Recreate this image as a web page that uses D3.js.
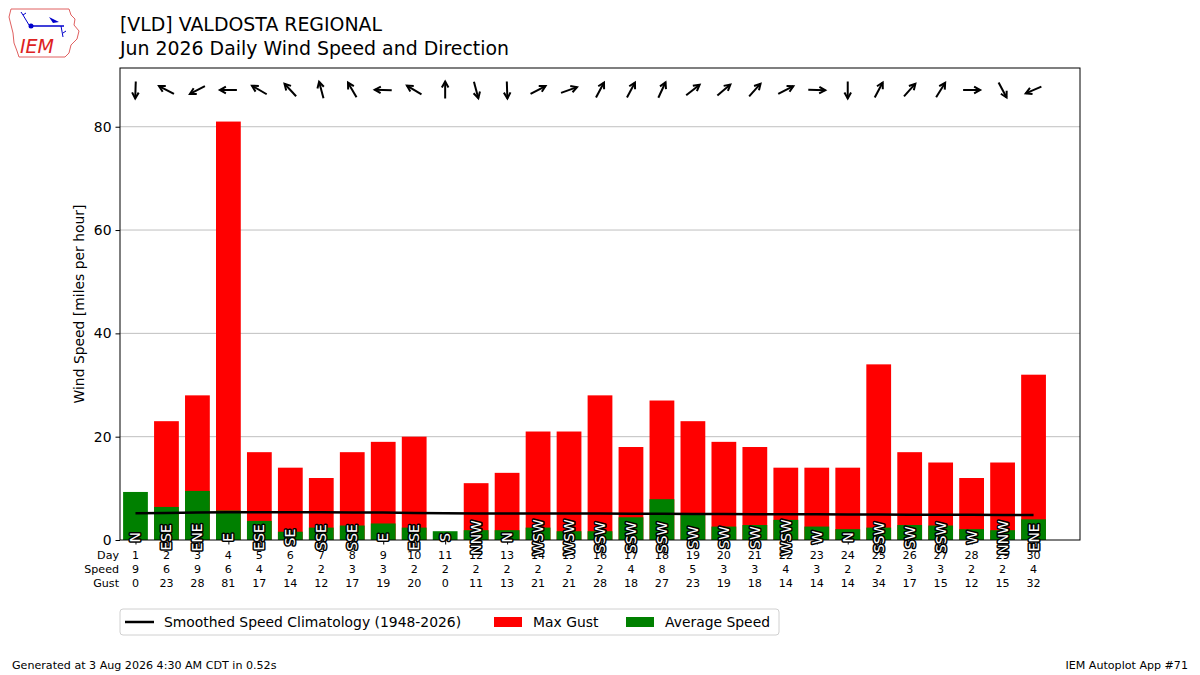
<!DOCTYPE html>
<html>
<head>
<meta charset="utf-8">
<script src="https://cdn.jsdelivr.net/npm/d3@7"></script>
<style>
  body { margin: 0; background: #fff; }
  svg text { font-family: "DejaVu Sans", sans-serif; }
</style>
</head>
<body>
<div id="chart"></div>
<script>
// daily values
const days = d3.range(1, 31);
const avgSpeed = [9.3, 6.4, 9.5, 5.7, 3.7, 1.6, 2.4, 2.8, 3.2, 2.4, 1.7, 1.9, 1.9, 2.4, 1.7,
                  1.7, 4.4, 7.9, 5.0, 2.6, 2.9, 3.9, 2.6, 2.1, 2.4, 2.9, 2.8, 2.1, 1.9, 4.0];
const speedLabels = [9, 6, 9, 6, 4, 2, 2, 3, 3, 2, 2, 2, 2, 2, 2, 2, 4, 8, 5, 3, 3, 4, 3, 2, 2, 3, 3, 2, 2, 4];
const maxGust = [0, 23, 28, 81, 17, 14, 12, 17, 19, 20, 0, 11, 13, 21, 21,
                 28, 18, 27, 23, 19, 18, 14, 14, 14, 34, 17, 15, 12, 15, 32];
const dirLabels = ["N", "ESE", "ENE", "E", "ESE", "SE", "SSE", "SSE", "E", "ESE", "S", "NNW", "N", "WSW", "WSW",
                   "SSW", "SSW", "SSW", "SW", "SW", "SW", "WSW", "W", "N", "SSW", "SW", "SSW", "W", "NNW", "ENE"];
const dirDeg = [2, 118, 62, 90, 120, 137, 165, 150, 92, 121, 180, 345, 358, 242, 250,
                208, 208, 205, 232, 230, 222, 243, 272, 0, 208, 222, 212, 270, 332, 67];
const climo = [5.2, 5.25, 5.3, 5.35, 5.35, 5.35, 5.35, 5.3, 5.3, 5.25, 5.2, 5.15, 5.15, 5.15, 5.15,
               5.15, 5.1, 5.1, 5.05, 5.05, 5.0, 5.0, 5.0, 4.95, 4.95, 4.9, 4.9, 4.9, 4.85, 4.85];
const yTicks = [0, 20, 40, 60, 80];

const W = 1200, H = 675;
const margin = { top: 68, right: 120, bottom: 135, left: 120 };
const innerW = W - margin.left - margin.right;
const innerH = H - margin.top - margin.bottom;
const FS = 13.9;

const svg = d3.select('#chart').append('svg')
    .attr('width', W)
    .attr('height', H);

const x = d3.scaleLinear().domain([0.5, 31.5]).range([0, innerW]);
const y = d3.scaleLinear().domain([0, d3.max(maxGust) * 1.128]).range([innerH, 0]);
const barW = x(0.8) - x(0);

const g = svg.append('g').attr('transform', `translate(${margin.left},${margin.top})`);

// grid lines
g.append('g').selectAll('line')
    .data(yTicks.filter(t => t > 0))
    .join('line')
    .attr('x1', 0).attr('x2', innerW)
    .attr('y1', d => y(d)).attr('y2', d => y(d))
    .attr('stroke', '#b0b0b0').attr('stroke-width', 0.8);

// bars: gust behind, average in front
g.append('g').selectAll('rect')
    .data(days)
    .join('rect')
    .attr('x', d => x(d) - barW / 2)
    .attr('width', barW)
    .attr('y', (d, i) => y(maxGust[i]))
    .attr('height', (d, i) => y(0) - y(maxGust[i]))
    .attr('fill', '#ff0000');

g.append('g').selectAll('rect')
    .data(days)
    .join('rect')
    .attr('x', d => x(d) - barW / 2)
    .attr('width', barW)
    .attr('y', (d, i) => y(avgSpeed[i]))
    .attr('height', (d, i) => y(0) - y(avgSpeed[i]))
    .attr('fill', '#008000');

// climatology line
const line = d3.line()
    .x((d, i) => x(days[i]))
    .y(d => y(d));
g.append('path')
    .datum(climo)
    .attr('d', line)
    .attr('fill', 'none')
    .attr('stroke', '#000')
    .attr('stroke-width', 2.5);

// frame
g.append('rect')
    .attr('width', innerW).attr('height', innerH)
    .attr('fill', 'none').attr('stroke', '#000').attr('stroke-width', 1);

// wind direction arrows (pointing where the wind blows to)
const arrowLen = 17, headLen = 6;
const arrows = g.append('g').selectAll('g')
    .data(dirDeg)
    .join('g')
    .attr('transform', (d, i) => `translate(${x(days[i])},${22}) rotate(${d + 180})`);
arrows.append('line')
    .attr('x1', 0).attr('y1', arrowLen / 2)
    .attr('x2', 0).attr('y2', -arrowLen / 2)
    .attr('stroke', '#000').attr('stroke-width', 2);
arrows.append('path')
    .attr('d', `M${-headLen * 0.55},${-arrowLen / 2 + headLen} L0,${-arrowLen / 2} L${headLen * 0.55},${-arrowLen / 2 + headLen}`)
    .attr('fill', 'none')
    .attr('stroke', '#000').attr('stroke-width', 2)
    .attr('stroke-linejoin', 'miter');

// axes
const yAxis = d3.axisLeft(y).tickValues(yTicks).tickSize(4.5).tickPadding(4);
g.append('g').call(yAxis)
    .call(a => a.select('.domain').remove())
    .selectAll('text').attr('font-size', FS).attr('fill', '#000');

const xAxisG = g.append('g')
    .attr('transform', `translate(0,${innerH})`)
    .call(d3.axisBottom(x).tickValues(days).tickSize(4.5).tickFormat(''));
xAxisG.select('.domain').remove();

// three-row tick labels
const rows = [
    { name: 'Day', vals: days, y: 19 },
    { name: 'Speed', vals: speedLabels, y: 33 },
    { name: 'Gust', vals: maxGust, y: 47 }
];
rows.forEach(r => {
    xAxisG.append('text')
        .attr('x', -1).attr('y', r.y)
        .attr('text-anchor', 'end')
        .attr('font-size', 11.1).attr('fill', '#000')
        .text(r.name);
    xAxisG.append('g').selectAll('text')
        .data(r.vals)
        .join('text')
        .attr('x', (d, i) => x(days[i]))
        .attr('y', r.y)
        .attr('text-anchor', 'middle')
        .attr('font-size', 11.1).attr('fill', '#000')
        .text(d => d);
});

// direction labels inside bars (drawn over the tick row like the original)
g.append('g').selectAll('text')
    .data(dirLabels)
    .join('text')
    .attr('transform', (d, i) => `translate(${x(days[i])},${y(0.5)}) rotate(-90)`)
    .attr('text-anchor', 'middle')
    .attr('dy', '0.36em')
    .attr('font-size', FS)
    .attr('fill', '#fff')
    .attr('stroke', '#000')
    .attr('stroke-width', 3)
    .attr('paint-order', 'stroke')
    .attr('stroke-linejoin', 'round')
    .text(d => d);

// y label
svg.append('text')
    .attr('transform', `translate(84,${margin.top + innerH / 2}) rotate(-90)`)
    .attr('text-anchor', 'middle')
    .attr('font-size', FS)
    .text('Wind Speed [miles per hour]');

// titles
svg.append('text').attr('x', 120).attr('y', 31).attr('font-size', 18.9).text('[VLD] VALDOSTA REGIONAL');
svg.append('text').attr('x', 120).attr('y', 55).attr('font-size', 18.9).text('Jun 2026 Daily Wind Speed and Direction');

// legend
const leg = svg.append('g').attr('transform', 'translate(120,609)');
leg.append('rect')
    .attr('width', 659).attr('height', 26).attr('rx', 3)
    .attr('fill', '#fff').attr('stroke', '#d0d0d0');
leg.append('line')
    .attr('x1', 5).attr('x2', 34).attr('y1', 13).attr('y2', 13)
    .attr('stroke', '#000').attr('stroke-width', 2.5);
leg.append('text').attr('x', 44).attr('y', 17.8).attr('font-size', FS).text('Smoothed Speed Climatology (1948-2026)');
leg.append('rect').attr('x', 374).attr('y', 8).attr('width', 28).attr('height', 10).attr('fill', '#ff0000');
leg.append('text').attr('x', 413).attr('y', 17.8).attr('font-size', FS).text('Max Gust');
leg.append('rect').attr('x', 506).attr('y', 8).attr('width', 28).attr('height', 10).attr('fill', '#008000');
leg.append('text').attr('x', 545).attr('y', 17.8).attr('font-size', FS).text('Average Speed');

// footer
svg.append('text').attr('x', 12).attr('y', 669).attr('font-size', 11.1)
    .text('Generated at 3 Aug 2026 4:30 AM CDT in 0.52s');
svg.append('text').attr('x', 1188).attr('y', 669).attr('font-size', 11.1).attr('text-anchor', 'end')
    .text('IEM Autoplot App #71');

// rough IEM logo
const logo = svg.append('g').attr('transform', 'translate(9,7)');
logo.append('path')
    .attr('d', 'M2,2 L60,2 L62,8 L66,12 L65,18 L70,24 L68,32 L62,38 L60,46 L56,50 L10,50 L8,44 L5,36 L4,26 L2,18 L0,10 Z')
    .attr('fill', 'none').attr('stroke', '#e06060').attr('stroke-width', 1);
logo.append('line').attr('x1', 21).attr('y1', 19).attr('x2', 55).attr('y2', 19)
    .attr('stroke', '#0000cc').attr('stroke-width', 1.5);
logo.append('circle').attr('cx', 22).attr('cy', 19).attr('r', 2.5).attr('fill', '#0000cc');
logo.append('path').attr('d', 'M20,18 L14,8 M14,8 L12,5 M14,8 L17,6').attr('stroke', '#0000cc').attr('fill', 'none');
logo.append('path').attr('d', 'M40,10 L50,15 L44,16 Z').attr('fill', '#0000cc');
logo.append('path').attr('d', 'M52,19 L54,30 M54,26 L57,24').attr('stroke', '#0000cc').attr('fill', 'none');
logo.append('text').attr('x', 11).attr('y', 46).attr('font-size', 19)
    .attr('font-family', '"Liberation Serif", serif').attr('font-style', 'italic')
    .attr('fill', '#dd2222').text('IEM');
</script>
</body>
</html>
